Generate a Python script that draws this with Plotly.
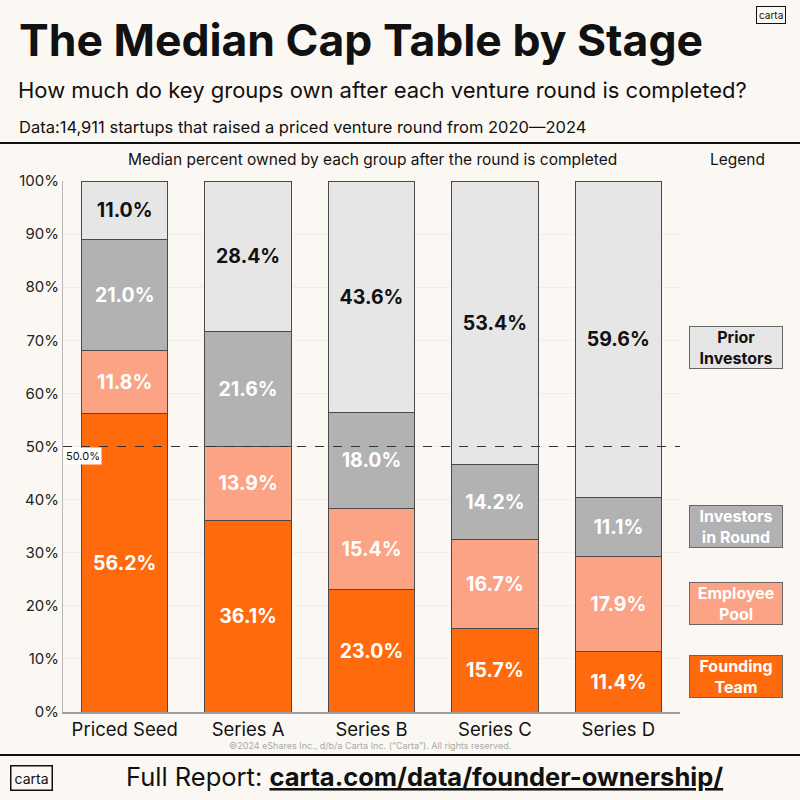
"""Median cap table by stage, stacked bar chart."""

from plotly import graph_objects as go

stages = ["Priced Seed", "Series A", "Series B", "Series C", "Series D"]
founding_team = [56.2, 36.1, 23.0, 15.7, 11.4]
employee_pool = [11.8, 13.9, 15.4, 16.7, 17.9]
investors_in_round = [21.0, 21.6, 18.0, 14.2, 11.1]
prior_investors = [11.0, 28.4, 43.6, 53.4, 59.6]
y_ticks = [0, 10, 20, 30, 40, 50, 60, 70, 80, 90, 100]
y_tick_labels = [f"{v}%" for v in y_ticks]
midline = 50.0

BG = "#FBF8F3"
FONT = "Inter"


def py(px):
    """Pixel row (from top) to paper y."""
    return 1 - px / 800


def px_(px):
    return px / 800


series = [
    ("Founding Team", founding_team, "#FF6A0D", "white"),
    ("Employee Pool", employee_pool, "#FCA285", "white"),
    ("Investors in Round", investors_in_round, "#B2B2B2", "white"),
    ("Prior Investors", prior_investors, "#E6E6E6", "#111111"),
]

fig = go.Figure()
for name, vals, color, tcolor in series:
    fig.add_trace(
        go.Bar(
            x=stages,
            y=vals,
            name=name,
            width=0.7,
            marker=dict(color=color, line=dict(color="#4A4A4A", width=1)),
            texttemplate="%{y:.1f}%",
            textposition="inside",
            insidetextanchor="middle",
            constraintext="none",
            textfont=dict(family=FONT, size=19.5, color=tcolor, weight="bold"),
            showlegend=False,
        )
    )

fig.add_hline(y=midline, line=dict(color="#333333", width=1, dash="dash"))

fig.update_layout(
    barmode="stack",
    width=800,
    height=800,
    margin=dict(l=0, r=0, t=0, b=0),
    paper_bgcolor=BG,
    plot_bgcolor=BG,
    font=dict(family=FONT, color="#111111"),
    xaxis=dict(
        domain=[px_(63), px_(680)],
        range=[-0.5, 4.5],
        automargin=False,
        showline=True,
        linecolor="#A0A0A0",
        linewidth=2,
        ticks="",
        tickfont=dict(size=18.5, color="#111111"),
        showgrid=False,
    ),
    yaxis=dict(
        domain=[py(712), py(181)],
        range=[0, 100],
        automargin=False,
        tickvals=y_ticks,
        ticktext=y_tick_labels,
        tickfont=dict(size=15, color="#222222"),
        showline=True,
        linecolor="#B8B8B8",
        linewidth=1,
        showgrid=True,
        gridcolor="#F1EEE9",
        zeroline=False,
        ticks="",
    ),
)

ann = []
ann.append(dict(x=px_(17), y=py(40), xanchor="left", yanchor="middle",
                text="<b>The Median Cap Table by Stage</b>",
                font=dict(size=44.5, color="#111111")))
ann.append(dict(x=px_(16), y=py(90), xanchor="left", yanchor="middle",
                text="How much do key groups own after each venture round is completed?",
                font=dict(size=22, color="#111111")))
ann.append(dict(x=px_(17), y=py(127), xanchor="left", yanchor="middle",
                text="Data:14,911 startups that raised a priced venture round from 2020\u20142024",
                font=dict(size=16.5, color="#111111")))
ann.append(dict(x=px_(771), y=py(15), xanchor="center", yanchor="middle",
                text="carta", font=dict(size=10, color="#111111"),
                bordercolor="#111111", borderwidth=1, borderpad=2))
ann.append(dict(x=px_(372), y=py(160), xanchor="center", yanchor="middle",
                text="Median percent owned by each group after the round is completed",
                font=dict(size=15.5, color="#111111")))
ann.append(dict(x=px_(737), y=py(160), xanchor="center", yanchor="middle",
                text="Legend", font=dict(size=15.5, color="#111111")))
ann.append(dict(x=px_(64), y=midline, yref="y", xanchor="left", yanchor="top",
                text="50.0%", font=dict(size=11, color="#111111"),
                bgcolor="white", borderpad=1, showarrow=False))
ann.append(dict(x=px_(370), y=py(745), xanchor="center", yanchor="middle",
                text="\u00a92024 eShares Inc., d/b/a Carta Inc. (\u201cCarta\u201d). All rights reserved.",
                font=dict(size=9, color="#A8A8A8")))
ann.append(dict(x=px_(31), y=py(778), xanchor="center", yanchor="middle",
                text="carta", font=dict(size=14, color="#111111"),
                bordercolor="#111111", borderwidth=1.5, borderpad=3))
ann.append(dict(x=px_(424), y=py(776), xanchor="center", yanchor="middle",
                text="Full Report: <b><u>carta.com/data/founder-ownership/</u></b>",
                font=dict(size=25.5, color="#111111")))

legend_items = [
    ("Prior<br>Investors", 347, "#E6E6E6", "#111111"),
    ("Investors<br>in Round", 526, "#B2B2B2", "white"),
    ("Employee<br>Pool", 603, "#FCA285", "white"),
    ("Founding<br>Team", 676, "#FF6A0D", "white"),
]
for text, ypx, color, tcolor in legend_items:
    ann.append(dict(x=px_(736), y=py(ypx), xanchor="center", yanchor="middle",
                    text="<b>" + text + "</b>", width=88, height=37,
                    font=dict(size=16, color=tcolor), bgcolor=color,
                    bordercolor="#666666", borderwidth=1, borderpad=2))

for a in ann:
    a.setdefault("xref", "paper")
    a.setdefault("yref", "paper")
    a.setdefault("showarrow", False)
    fig.add_annotation(**a)

fig.add_shape(type="line", xref="paper", yref="paper", x0=0, x1=1,
              y0=py(143), y1=py(143), line=dict(color="#111111", width=2))
fig.add_shape(type="line", xref="paper", yref="paper", x0=0, x1=1,
              y0=py(755), y1=py(755), line=dict(color="#111111", width=2))

# drop the default page margin so the figure fills the window
fig.write_html(
    "out.html",
    config={"displayModeBar": False},
    post_script="document.body.style.margin='0';"
    "document.body.style.background='" + BG + "';",
)
